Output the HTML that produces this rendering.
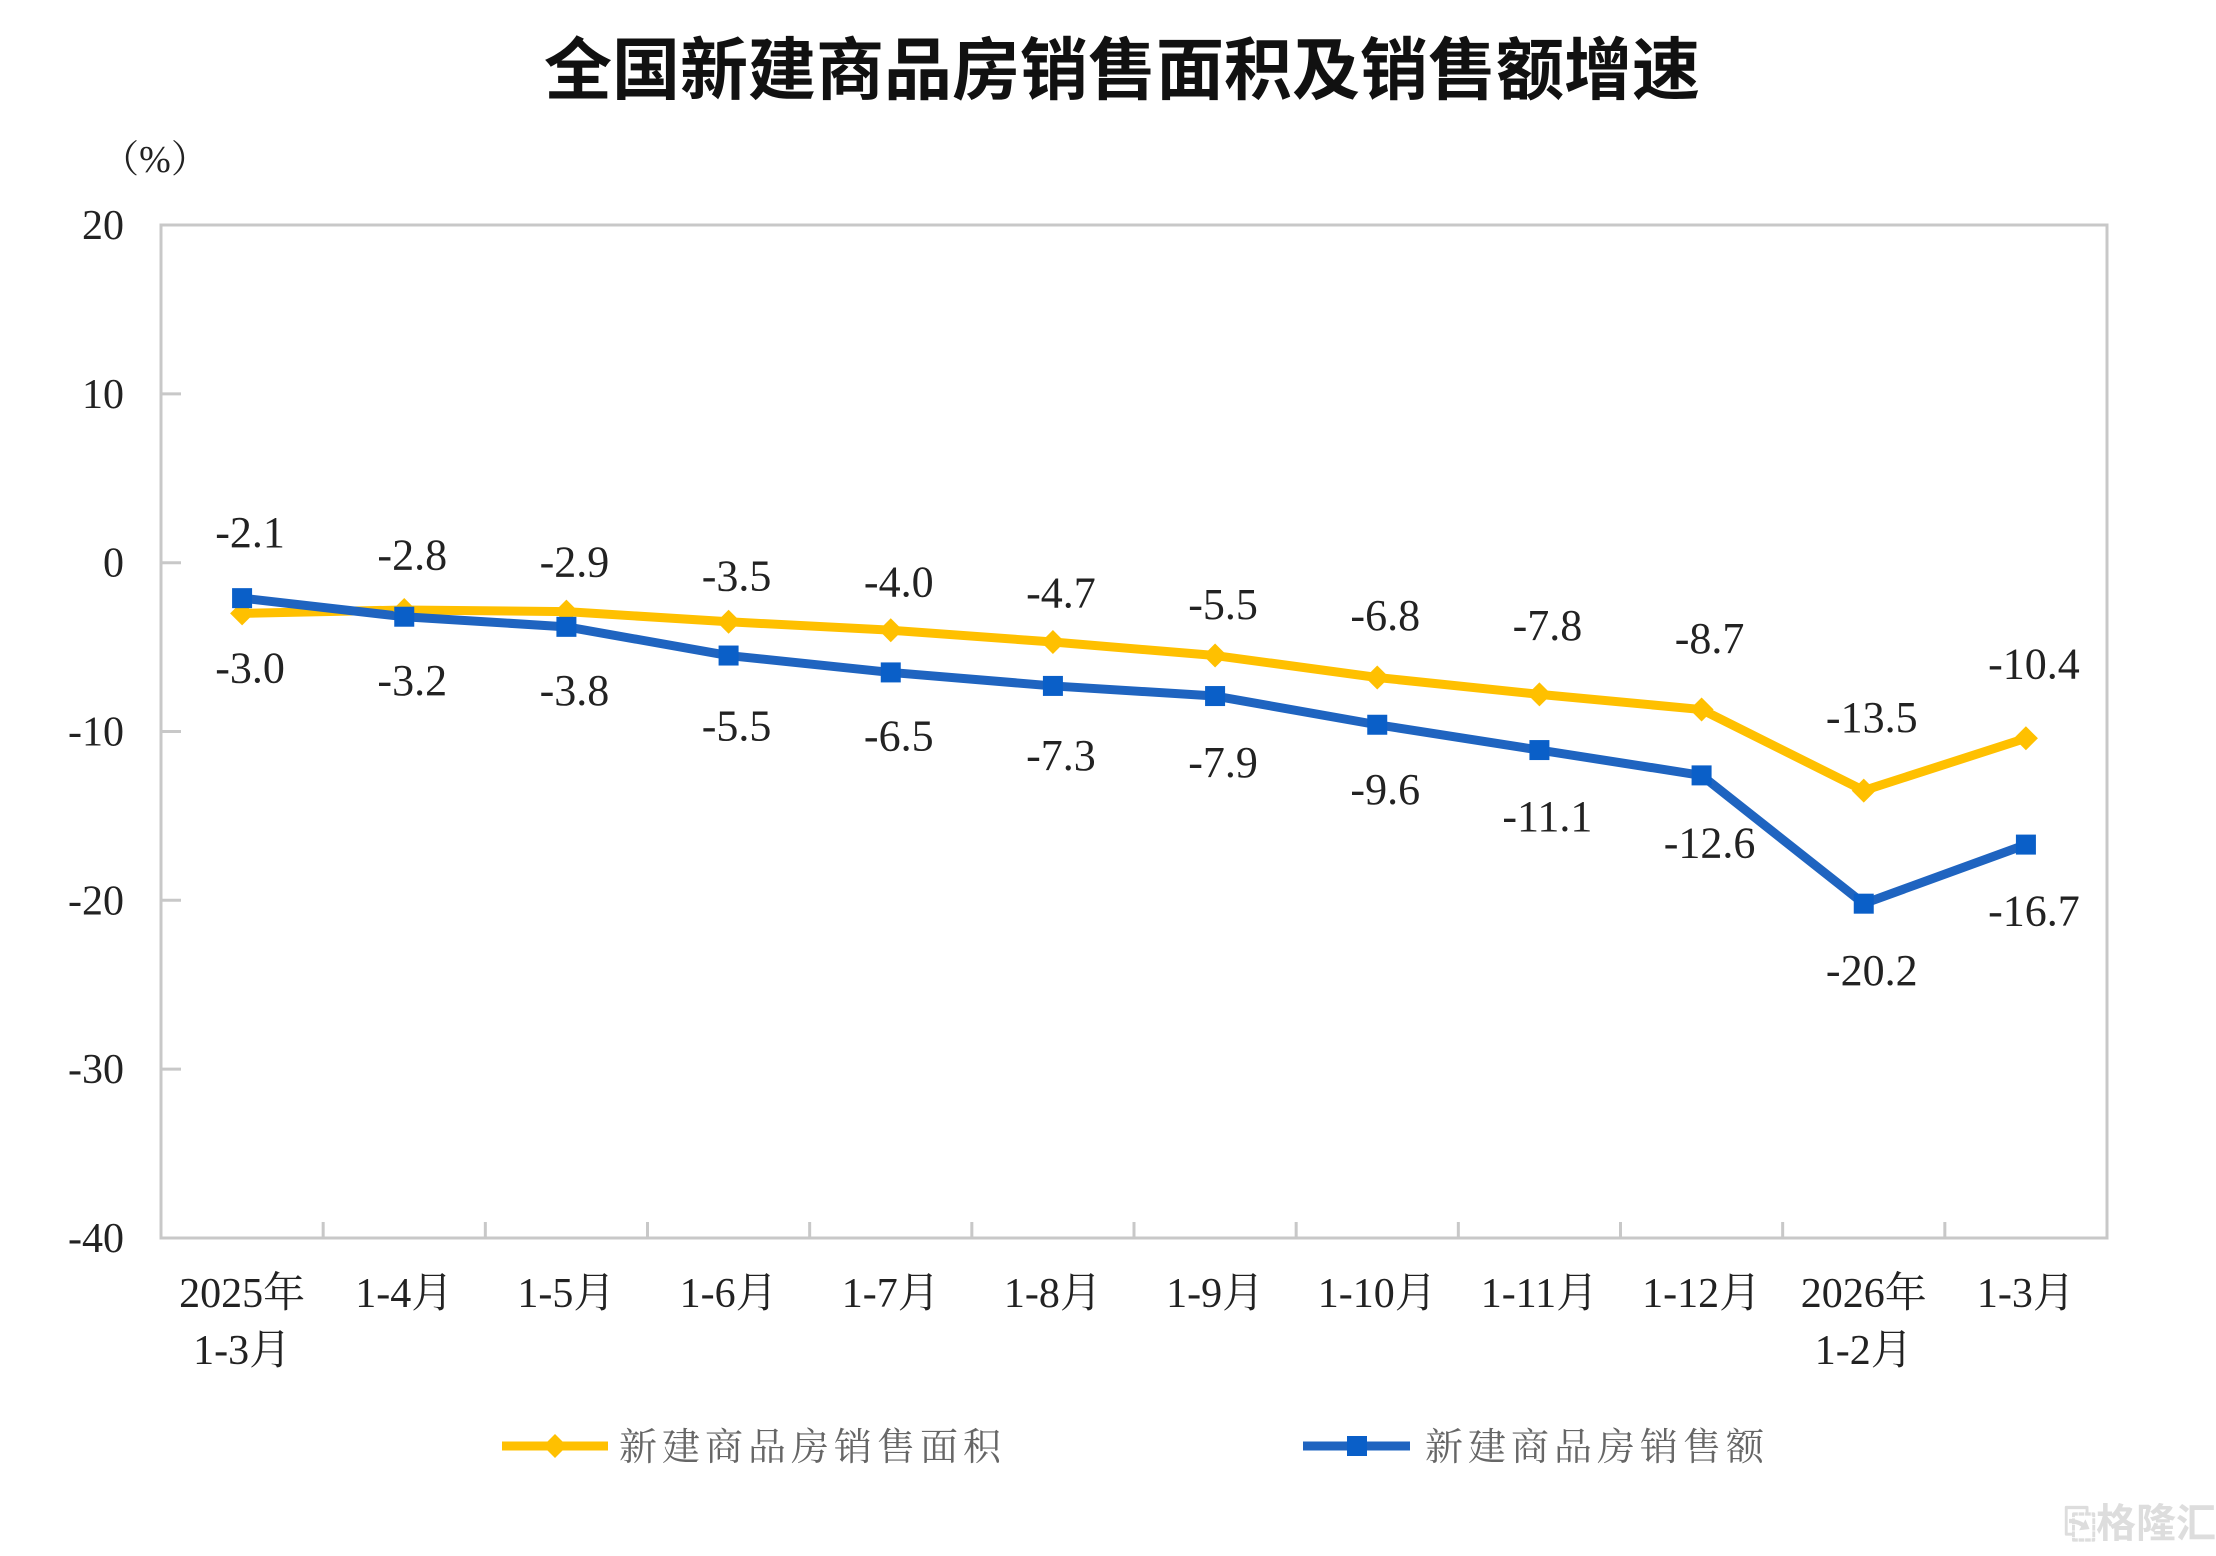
<!DOCTYPE html>
<html><head><meta charset="utf-8">
<style>
html,body{margin:0;padding:0;background:#fff;}
svg{display:block;}
text{font-family:"Liberation Serif","Noto Serif CJK SC",serif;fill:#222;}
</style></head>
<body>
<svg id="s" width="2216" height="1556" viewBox="0 0 2216 1556" xmlns="http://www.w3.org/2000/svg">
<text x="1122" y="94" text-anchor="middle" style="font-family:'Liberation Sans','Noto Sans CJK SC',sans-serif;font-weight:bold;font-size:68px;fill:#111">全国新建商品房销售面积及销售额增速</text>
<text x="155" y="172" text-anchor="middle" style="font-size:38px">（%）</text>
<rect x="161" y="225" width="1946" height="1013" fill="none" stroke="#c8c8c8" stroke-width="3"/>
<g id="g"></g>
<text x="2140" y="1537" text-anchor="middle" style="font-family:'Liberation Sans','Noto Sans CJK SC',sans-serif;font-size:40px;fill:#ddd;font-weight:bold">⎘格隆汇</text>
</svg>
<script>
var NS="http://www.w3.org/2000/svg",g=document.getElementById("g");
function el(t,a,txt){var e=document.createElementNS(NS,t);for(var k in a)e.setAttribute(k,a[k]);if(txt!=null)e.textContent=txt;g.appendChild(e);return e;}
function Y(v){return 562.7-v*16.88;}
var X0=161,W=1946,step=W/12;function X(i){return X0+step/2+step*i;}
[20,10,0,-10,-20,-30,-40].forEach(function(v){
 var y=Y(v); if(v<20&&v>-40) el("line",{x1:161,x2:181,y1:y,y2:y,stroke:"#c8c8c8","stroke-width":3});
 el("text",{x:124,y:y+14,"text-anchor":"end","font-size":"42"},v==0?"0":(v<0?"-"+(-v):String(v)));
});
for(var i=1;i<12;i++){var x=X0+step*i;el("line",{x1:x,x2:x,y1:1238,y2:1222,stroke:"#c8c8c8","stroke-width":3});}
var cats=[["2025年","1-3月"],["1-4月"],["1-5月"],["1-6月"],["1-7月"],["1-8月"],["1-9月"],["1-10月"],["1-11月"],["1-12月"],["2026年","1-2月"],["1-3月"]];
cats.forEach(function(c,i){c.forEach(function(t,j){el("text",{x:X(i),y:1307+j*57,"text-anchor":"middle","font-size":"42"},t);});});
var A=[-3.0,-2.8,-2.9,-3.5,-4.0,-4.7,-5.5,-6.8,-7.8,-8.7,-13.5,-10.4];
var B=[-2.1,-3.2,-3.8,-5.5,-6.5,-7.3,-7.9,-9.6,-11.1,-12.6,-20.2,-16.7];
var bl="#1F64C0";
el("polyline",{points:A.map(function(v,i){return X(i)+","+Y(v)}).join(" "),fill:"none",stroke:"#FFC000","stroke-width":9,"stroke-linejoin":"round"});
el("polyline",{points:B.map(function(v,i){return X(i)+","+Y(v)}).join(" "),fill:"none",stroke:bl,"stroke-width":9,"stroke-linejoin":"round"});
A.forEach(function(v,i){var x=X(i),y=Y(v);el("polygon",{points:(x-12)+","+y+" "+x+","+(y-12)+" "+(x+12)+","+y+" "+x+","+(y+12),fill:"#FFC000"});});
B.forEach(function(v,i){var x=X(i),y=Y(v);el("rect",{x:x-10,y:y-10,width:20,height:20,fill:"#0A5FC8"});});
var tops=[377,393,398,408,412,420,428,436,443,452,508,470],bots=[473,482,489,514,521,535,540,559,578,597,687,645];
var topV=["-2.1","-2.8","-2.9","-3.5","-4.0","-4.7","-5.5","-6.8","-7.8","-8.7","-13.5","-10.4"];
var botV=["-3.0","-3.2","-3.8","-5.5","-6.5","-7.3","-7.9","-9.6","-11.1","-12.6","-20.2","-16.7"];
for(var i=0;i<12;i++){
 el("text",{x:X(i)+8,y:tops[i]*1.4133+14,"text-anchor":"middle","font-size":"44"},topV[i]);
 el("text",{x:X(i)+8,y:bots[i]*1.4133+14,"text-anchor":"middle","font-size":"44"},botV[i]);
}
el("line",{x1:502,x2:608,y1:1446,y2:1446,stroke:"#FFC000","stroke-width":9});
el("polygon",{points:"543,1446 555,1434 567,1446 555,1458",fill:"#FFC000"});
el("text",{x:619,y:1460,"font-size":"38","letter-spacing":"5",style:"fill:#666"},"新建商品房销售面积");
el("line",{x1:1303,x2:1410,y1:1446,y2:1446,stroke:bl,"stroke-width":9});
el("rect",{x:1347,y:1436,width:20,height:20,fill:"#0A5FC8"});
el("text",{x:1425,y:1460,"font-size":"38","letter-spacing":"5",style:"fill:#666"},"新建商品房销售额");
</script>
</body></html>
